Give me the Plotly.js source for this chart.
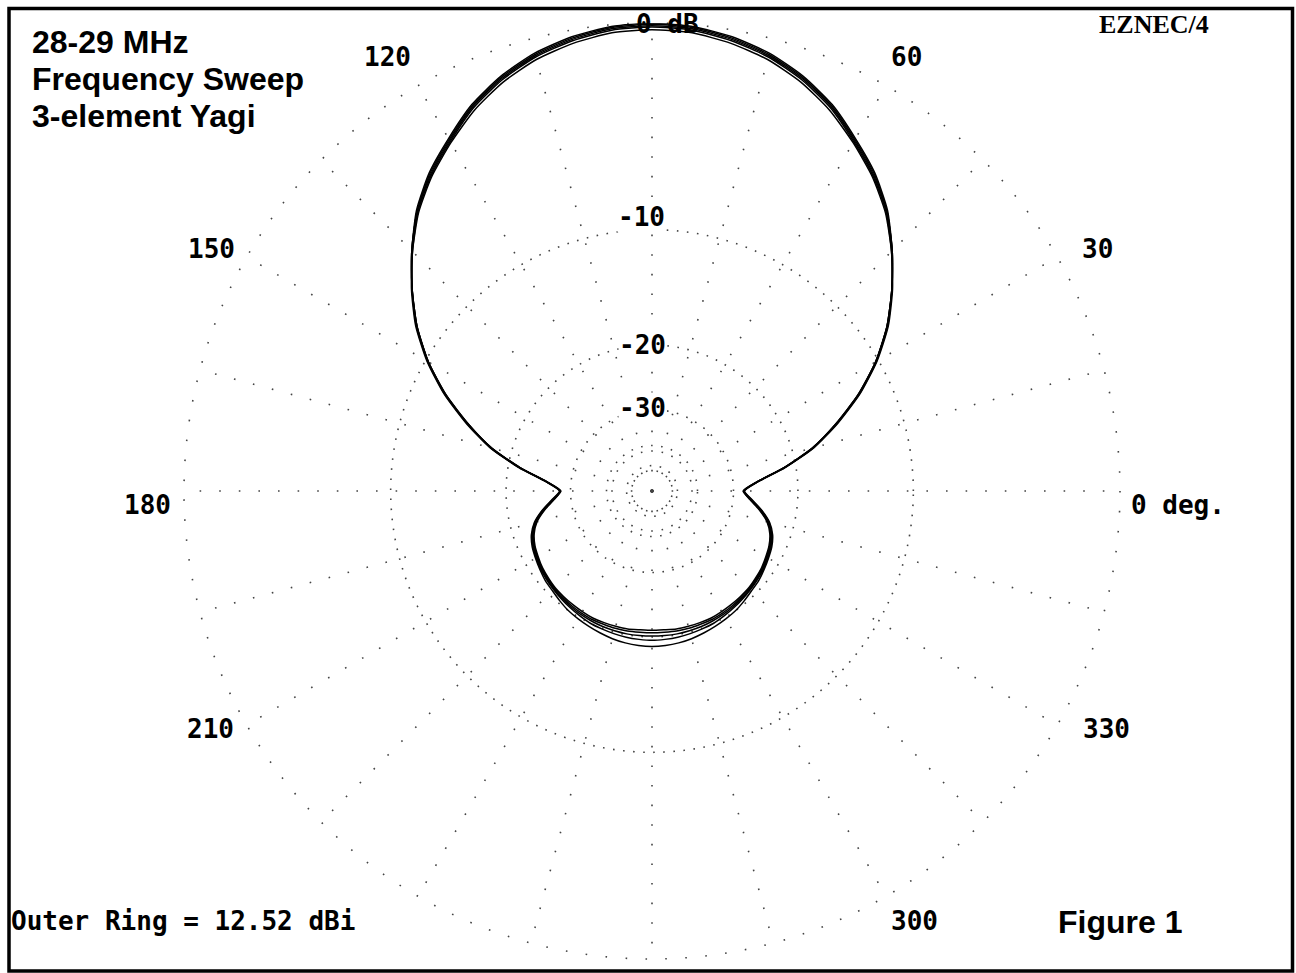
<!DOCTYPE html>
<html>
<head>
<meta charset="utf-8">
<script src="https://cdn.plot.ly/plotly-3.0.1.min.js"></script>
<style>
  html, body { margin: 0; padding: 0; background: #fff; }
  #chart { width: 1296px; height: 973px; }
</style>
</head>
<body>
<div id="chart"></div>
<script>
// ---- Data (dB relative to outer ring = 12.52 dBi) ----
const azimuth = [0,5,10,15,20,25,30,35,40,45,50,55,60,65,70,75,80,85,90,95,100,105,110,115,120,125,130,135,140,145,150,155,160,165,170,175,180,185,190,195,200,205,210,215,220,225,230,235,240,245,250,255,260,265,270,275,280,285,290,295,300,305,310,315,320,325,330,335,340,345,350,355,360];

const freqLabels = ["28.0 MHz","28.25 MHz","28.5 MHz","28.75 MHz","29.0 MHz"];

const gain28_00 = [-28.0,-25.6,-21.5,-17.8,-15.0,-12.4,-10.2,-8.4,-6.9,-5.5,-4.2,-3.2,-2.4,-1.6,-1.0,-0.55,-0.25,-0.06,0.0,-0.06,-0.25,-0.55,-1.0,-1.6,-2.4,-3.2,-4.2,-5.5,-6.9,-8.4,-10.2,-12.4,-15.0,-17.8,-21.5,-25.6,-28.0,
  -26.8,-25.0,-23.5,-22.6,-22.1,-21.8,-21.5,-21.3,-21.1,-21.0,-20.9,-20.8,-20.7,-20.7,-20.7,-20.7,-20.8,
  -20.8,
  -20.8,-20.7,-20.7,-20.7,-20.7,-20.8,-20.9,-21.0,-21.1,-21.3,-21.5,-21.8,-22.1,-22.6,-23.5,-25.0,-26.8,
  -28.0];

const gain28_25 = [-28.1,-25.6,-21.5,-17.8,-15.0,-12.4,-10.2,-8.4,-6.9,-5.5,-4.25,-3.25,-2.45,-1.65,-1.05,-0.6,-0.3,-0.1,-0.05,-0.1,-0.3,-0.6,-1.05,-1.65,-2.45,-3.25,-4.25,-5.5,-6.9,-8.4,-10.2,-12.4,-15.0,-17.8,-21.5,-25.6,-28.1,
  -26.7,-24.9,-23.4,-22.5,-22.0,-21.7,-21.4,-21.2,-21.0,-20.85,-20.7,-20.6,-20.5,-20.5,-20.45,-20.45,-20.5,
  -20.5,
  -20.5,-20.45,-20.45,-20.5,-20.5,-20.6,-20.7,-20.85,-21.0,-21.2,-21.4,-21.7,-22.0,-22.5,-23.4,-24.9,-26.7,
  -28.1];

const gain28_50 = [-27.9,-25.5,-21.4,-17.7,-14.9,-12.35,-10.2,-8.4,-6.9,-5.5,-4.25,-3.3,-2.5,-1.7,-1.1,-0.65,-0.35,-0.15,-0.1,-0.15,-0.35,-0.65,-1.1,-1.7,-2.5,-3.3,-4.25,-5.5,-6.9,-8.4,-10.2,-12.35,-14.9,-17.7,-21.4,-25.5,-27.9,
  -26.6,-24.8,-23.3,-22.4,-21.9,-21.6,-21.3,-21.1,-20.9,-20.7,-20.55,-20.4,-20.3,-20.2,-20.15,-20.1,-20.1,
  -20.1,
  -20.1,-20.1,-20.15,-20.2,-20.3,-20.4,-20.55,-20.7,-20.9,-21.1,-21.3,-21.6,-21.9,-22.4,-23.3,-24.8,-26.6,
  -27.9];

const gain28_75 = [-27.9,-25.5,-21.4,-17.7,-14.9,-12.3,-10.15,-8.35,-6.9,-5.55,-4.3,-3.35,-2.55,-1.75,-1.15,-0.7,-0.4,-0.2,-0.15,-0.2,-0.4,-0.7,-1.15,-1.75,-2.55,-3.35,-4.3,-5.55,-6.9,-8.35,-10.15,-12.3,-14.9,-17.7,-21.4,-25.5,-27.9,
  -26.5,-24.7,-23.2,-22.3,-21.8,-21.5,-21.2,-21.0,-20.8,-20.6,-20.4,-20.2,-20.0,-19.9,-19.8,-19.7,-19.65,
  -19.6,
  -19.65,-19.7,-19.8,-19.9,-20.0,-20.2,-20.4,-20.6,-20.8,-21.0,-21.2,-21.5,-21.8,-22.3,-23.2,-24.7,-26.5,
  -27.9];

const gain29_00 = [-27.8,-25.4,-21.3,-17.6,-14.8,-12.25,-10.1,-8.3,-6.85,-5.55,-4.35,-3.4,-2.6,-1.85,-1.25,-0.8,-0.5,-0.3,-0.25,-0.3,-0.5,-0.8,-1.25,-1.85,-2.6,-3.4,-4.35,-5.55,-6.85,-8.3,-10.1,-12.25,-14.8,-17.6,-21.3,-25.4,-27.8,
  -26.4,-24.6,-23.1,-22.2,-21.7,-21.4,-21.1,-20.8,-20.6,-20.3,-20.0,-19.8,-19.6,-19.4,-19.2,-19.05,-18.95,
  -18.9,
  -18.95,-19.05,-19.2,-19.4,-19.6,-19.8,-20.0,-20.3,-20.6,-20.8,-21.1,-21.4,-21.7,-22.2,-23.1,-24.6,-26.4,
  -27.8];

const innerRingDb = [-50,-40,-30,-20,-10];
const outerRingDb = 0;
const ringLabels = ["0 dB","-10","-20","-30"];
const angleLabels = ["0 deg.","30","60","120","150","180","210","300","330"];

// ---- ARRL log scale (each 2 dB = factor 0.89 in radius) ----
function arrl(db) { return Math.pow(0.89, -db / 2); }

const W = 1296, H = 973;
const CX = 652, CY = 491, R = 468;      // centre and outer-ring radius, px
const RMAX = 1.0;
const Rdom = R * RMAX;

function px(x) { return x / W; }
function py(y) { return 1 - y / H; }

const series = [gain28_00, gain28_25, gain28_50, gain28_75, gain29_00];
const traces = series.map((g, i) => ({
  type: 'scatterpolar',
  mode: 'lines',
  name: freqLabels[i],
  theta: azimuth,
  r: g.map(arrl),
  line: { color: '#000', width: 1.5, shape: 'spline', smoothing: 0.6 },
  hoverinfo: 'skip'
}));

const monoFont = { family: 'DejaVu Sans Mono', size: 26, color: '#000', weight: 'bold' };
const sansFont = { family: 'Liberation Sans', size: 32, color: '#000', weight: 'bold' };

function ann(text, x, y, font, xanchor, bg) {
  return {
    text: text, xref: 'paper', yref: 'paper', x: px(x), y: py(y),
    xanchor: xanchor || 'center', yanchor: 'middle', showarrow: false,
    font: font, bgcolor: bg || 'rgba(0,0,0,0)', borderpad: 0
  };
}

const annotations = [
  ann('28-29 MHz', 31, 42, sansFont, 'left'),
  ann('Frequency Sweep', 31, 79, sansFont, 'left'),
  ann('3-element Yagi', 31, 116, sansFont, 'left'),
  ann('Figure 1', 1057, 922, sansFont, 'left'),
  ann('EZNEC/4', 1154, 25, { family: 'Liberation Serif', size: 26, color: '#000', weight: 'bold' }, 'center'),
  ann('Outer Ring = 12.52 dBi', 10, 921, monoFont, 'left'),
  // radial ring labels
  ann(ringLabels[0], 667, 24, monoFont, 'center'),
  ann(ringLabels[1], 641, 217, monoFont, 'center', '#fff'),
  ann(ringLabels[2], 642, 345, monoFont, 'center', '#fff'),
  ann(ringLabels[3], 642, 408, monoFont, 'center', '#fff'),
  // angle labels
  ann(angleLabels[0], 1130, 505, monoFont, 'left'),
  ann(angleLabels[1], 1097, 249, monoFont, 'center'),
  ann(angleLabels[2], 906, 57, monoFont, 'center'),
  ann(angleLabels[3], 387, 57, monoFont, 'center'),
  ann(angleLabels[4], 211, 249, monoFont, 'center'),
  ann(angleLabels[5], 147, 505, monoFont, 'center'),
  ann(angleLabels[6], 210, 729, monoFont, 'center'),
  ann(angleLabels[7], 914, 921, monoFont, 'center'),
  ann(angleLabels[8], 1106, 729, monoFont, 'center')
];

const rOuter = R * arrl(outerRingDb);

const layout = {
  width: W, height: H,
  margin: { l: 0, r: 0, t: 0, b: 0, pad: 0 },
  paper_bgcolor: '#fff',
  showlegend: false,
  hovermode: false,
  polar: {
    domain: { x: [px(CX - Rdom), px(CX + Rdom)], y: [py(CY + Rdom), py(CY - Rdom)] },
    bgcolor: 'rgba(0,0,0,0)',
    radialaxis: {
      range: [0, RMAX],
      tickmode: 'array',
      tickvals: innerRingDb.map(arrl),
      showticklabels: false,
      ticks: '',
      showline: false,
      gridcolor: '#444',
      gridwidth: 1.6,
      griddash: '1.6px,8.5px'
    },
    angularaxis: {
      rotation: 0,
      direction: 'counterclockwise',
      tickmode: 'linear',
      tick0: 0,
      dtick: 15,
      showticklabels: false,
      ticks: '',
      showline: false,
      gridcolor: '#444',
      gridwidth: 1.6,
      griddash: '1.6px,18px'
    }
  },
  annotations: annotations,
  shapes: [
    {
      // outer (0 dB) ring, sparser dots as in the original
      type: 'circle', xref: 'paper', yref: 'paper', layer: 'below',
      x0: px(CX - rOuter), x1: px(CX + rOuter), y0: py(CY + rOuter), y1: py(CY - rOuter),
      line: { color: '#444', width: 1.6, dash: '1.6px,18.4px' }, fillcolor: 'rgba(0,0,0,0)'
    },
    {
      type: 'rect', xref: 'paper', yref: 'paper',
      x0: px(9), x1: px(1292.5), y0: py(971), y1: py(8.5),
      line: { color: '#000', width: 3.5 }, fillcolor: 'rgba(0,0,0,0)'
    }
  ]
};

Plotly.newPlot('chart', traces, layout, { staticPlot: true, displayModeBar: false });
</script>
</body>
</html>
